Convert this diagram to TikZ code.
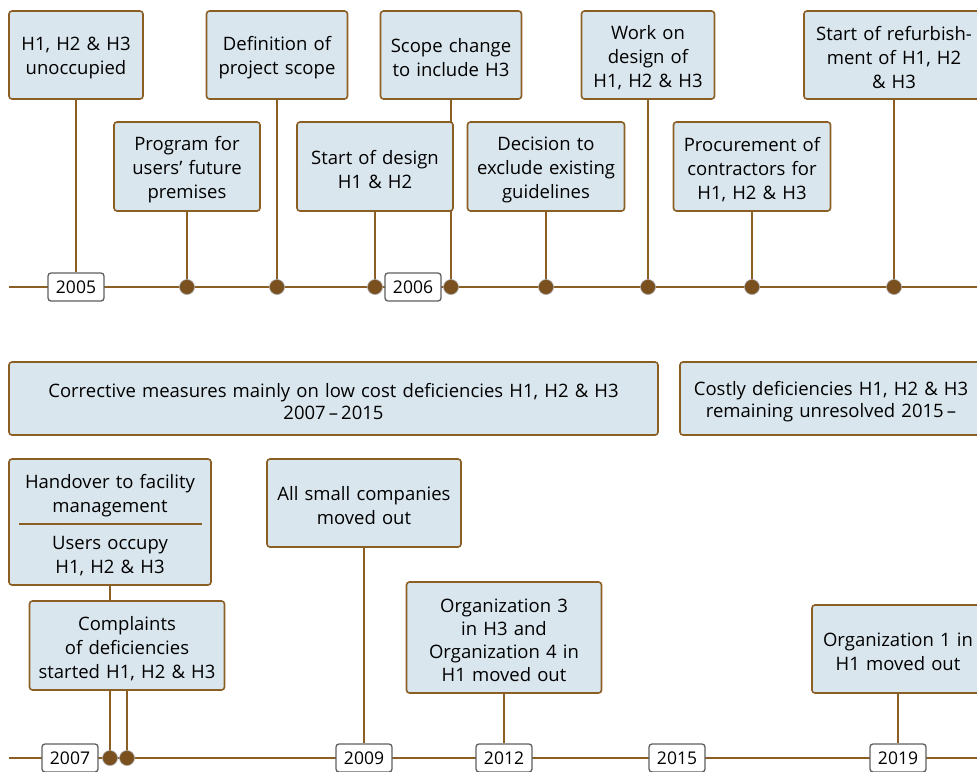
\documentclass[tikz,border=0pt]{standalone}
\usepackage{fontspec}
\setmainfont{Open Sans}
\definecolor{brn}{RGB}{139,94,36}
\definecolor{dotc}{RGB}{122,80,30}
\definecolor{boxc}{RGB}{218,230,238}
\definecolor{yrc}{RGB}{95,95,95}
\pgfdeclarelayer{bg}
\pgfsetlayers{bg,main}
\begin{document}
\begin{tikzpicture}[x=1pt,y=-1pt,
 ev/.style={draw=brn, line width=1.6pt, fill=boxc, rounded corners=3pt, align=center, inner sep=0pt, minimum width=#1, text width=#1, font=\fontsize{18.5}{24}\selectfont, execute at begin node={\rule{0pt}{20pt}}},
 stem/.style={draw=brn, line width=2.2pt},
 yr/.style={draw=yrc, line width=1.3pt, fill=white, rounded corners=3pt, minimum width=56pt, minimum height=28pt, inner sep=0pt, font=\fontsize{17.5}{20}\selectfont},
 dt/.style={circle, fill=dotc, draw=gray!70, line width=0.6pt, minimum size=15pt, inner sep=0pt}]
\useasboundingbox (0,0) rectangle (977,771);
\clip (0,0) rectangle (977,771);

% ---------- top timeline ----------
\coordinate (t1s) at (9,287);
\coordinate (t1e) at (977,287);
\node[ev=134pt, minimum height=88pt] (e1) at (76,55) {H1, H2 \& H3\\unoccupied};
\node[ev=141pt, minimum height=88pt] (e2) at (277,55) {Definition of\\project scope};
\node[ev=141pt, minimum height=88pt] (e3) at (451,55) {Scope change\\to include H3};
\node[ev=133pt, minimum height=88pt] (e4) at (648,55) {Work on\\design of\\H1, H2 \& H3};
\node[ev=180pt, minimum height=88pt] (e5) at (894,55) {Start of refurbish-\\ment of H1, H2\\\& H3};
\node[ev=146pt, minimum height=89pt] (e6) at (187,166.5) {Program for\\users’ future\\premises};
\node[ev=156pt, minimum height=89pt] (e7) at (375,166.5) {Start of design\\H1 \& H2};
\node[ev=157pt, minimum height=89pt] (e8) at (546,166.5) {Decision to\\exclude existing\\guidelines};
\node[ev=157pt, minimum height=89pt] (e9) at (752,166.5) {Procurement of\\contractors for\\H1, H2 \& H3};

\node[yr] (y2005) at (76,287) {2005};
\node[yr] (y2006) at (413,287) {2006};
\node[dt] (d6) at (187,287) {};
\node[dt] (d2) at (277,287) {};
\node[dt] (d7) at (375,287) {};
\node[dt] (d3) at (451,287) {};
\node[dt] (d8) at (546,287) {};
\node[dt] (d4) at (648,287) {};
\node[dt] (d9) at (752,287) {};
\node[dt] (d5) at (894,287) {};

% ---------- middle band ----------
\node[ev=649pt, minimum height=73pt, font=\fontsize{18.5}{22}\selectfont] (m1) at (333.5,398.5)
  {Corrective measures mainly on low cost deficiencies H1, H2 \& H3\\2007\,–\,2015};
\node[ev=302pt, minimum height=73pt, font=\fontsize{18.5}{22}\selectfont] (m2) at (831,398.5)
  {Costly deficiencies H1, H2 \& H3\\remaining unresolved 2015\,–};

% ---------- bottom timeline ----------
\coordinate (t2s) at (9,758);
\coordinate (t2e) at (977,758);
\node[ev=202pt, minimum height=126pt] (c1) at (110,522)
  {Handover to facility\\management\\[13pt]Users occupy\\H1, H2 \& H3};
\node[ev=195pt, minimum height=89pt] (c2) at (127,645.5) {Complaints\\of deficiencies\\started H1, H2 \& H3};
\node[ev=194pt, minimum height=88pt] (c3) at (364,503) {All small companies\\moved out};
\node[ev=195pt, minimum height=111pt, font=\fontsize{18.5}{23}\selectfont] (c4) at (504,637.5) {Organization 3\\in H3 and\\Organization 4 in\\H1 moved out};
\node[ev=172pt, minimum height=88pt] (c5) at (898,649) {Organization 1 in\\H1 moved out};
\draw[brn, line width=1.3pt] ([xshift=11pt,yshift=-2pt]c1.west) -- ([xshift=-10pt,yshift=-2pt]c1.east);

\node[yr] (y2007) at (70,758) {2007};
\node[yr] (y2009) at (364,758) {2009};
\node[yr] (y2012) at (504,758) {2012};
\node[yr] (y2015) at (677,758) {2015};
\node[yr] (y2019) at (898,758) {2019};
\node[dt] (dc1) at (110,758) {};
\node[dt] (dc2) at (127,758) {};

\begin{pgfonlayer}{bg}
  \draw[stem] (t1s) -- (t1e);
  \draw[stem] (t2s) -- (t2e);
  \draw[stem] (e1.south) -- (y2005.north);
  \draw[stem] (e2.south) -- (d2.center);
  \draw[stem] (e3.south) -- (d3.center);
  \draw[stem] (e4.south) -- (d4.center);
  \draw[stem] (e5.south) -- (d5.center);
  \draw[stem] (e6.south) -- (d6.center);
  \draw[stem] (e7.south) -- (d7.center);
  \draw[stem] (e8.south) -- (d8.center);
  \draw[stem] (e9.south) -- (d9.center);
  \draw[stem] (c1.south) -- (dc1.center);
  \draw[stem] (c2.south) -- (dc2.center);
  \draw[stem] (c3.south) -- (y2009.north);
  \draw[stem] (c4.south) -- (y2012.north);
  \draw[stem] (c5.south) -- (y2019.north);
\end{pgfonlayer}
\end{tikzpicture}
\end{document}
